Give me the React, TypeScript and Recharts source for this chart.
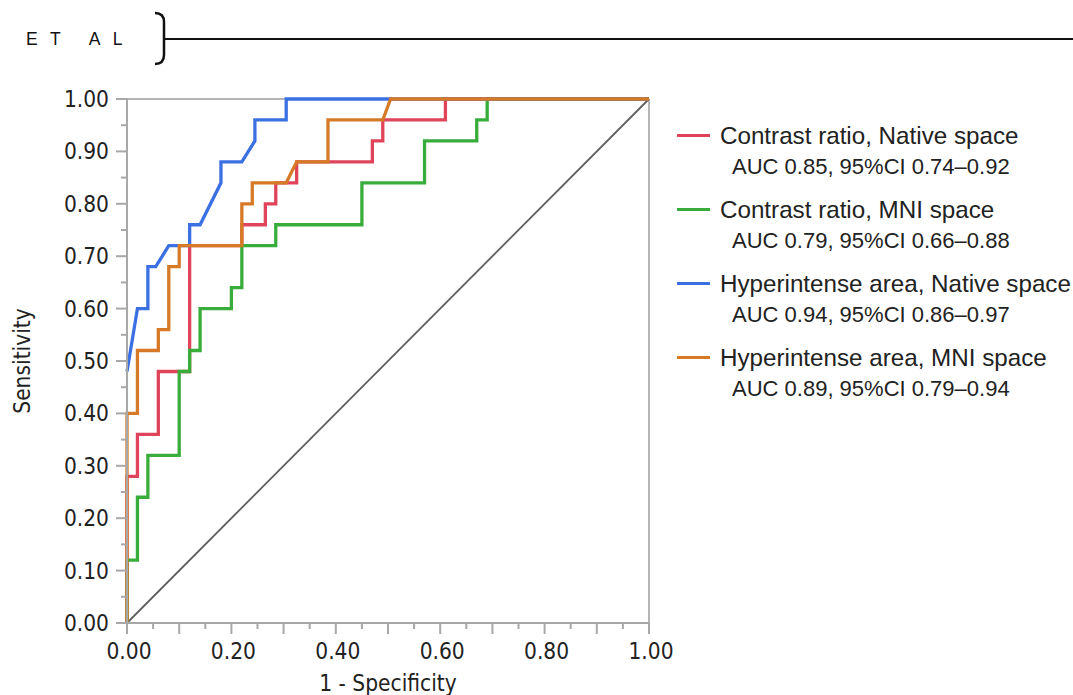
import React from "react";
import {
  LineChart,
  Line,
  XAxis,
  YAxis,
  CartesianGrid,
  ReferenceLine,
} from "recharts";

// ROC points (1 - specificity, sensitivity)
const RED_FPR = [0, 0, 0.02, 0.02, 0.06, 0.06, 0.12, 0.12, 0.22, 0.22, 0.265, 0.265, 0.285, 0.285, 0.325, 0.325, 0.47, 0.47, 0.49, 0.49, 0.61, 0.61, 1];
const RED_TPR = [0, 0.28, 0.28, 0.36, 0.36, 0.48, 0.48, 0.72, 0.72, 0.76, 0.76, 0.8, 0.8, 0.84, 0.84, 0.88, 0.88, 0.92, 0.92, 0.96, 0.96, 1, 1];

const GREEN_FPR = [0, 0, 0.02, 0.02, 0.04, 0.04, 0.1, 0.1, 0.12, 0.12, 0.14, 0.14, 0.2, 0.2, 0.22, 0.22, 0.285, 0.285, 0.45, 0.45, 0.57, 0.57, 0.67, 0.67, 0.69, 0.69, 1];
const GREEN_TPR = [0, 0.12, 0.12, 0.24, 0.24, 0.32, 0.32, 0.48, 0.48, 0.52, 0.52, 0.6, 0.6, 0.64, 0.64, 0.72, 0.72, 0.76, 0.76, 0.84, 0.84, 0.92, 0.92, 0.96, 0.96, 1, 1];

// blue curve: its first visible point is already at ~0.48 on the y axis
const BLUE_FPR = [0, 0.02, 0.04, 0.04, 0.055, 0.08, 0.12, 0.12, 0.14, 0.18, 0.18, 0.22, 0.245, 0.245, 0.305, 0.305, 1];
const BLUE_TPR = [0.48, 0.6, 0.6, 0.68, 0.68, 0.72, 0.72, 0.76, 0.76, 0.84, 0.88, 0.88, 0.92, 0.96, 0.96, 1, 1];

const ORANGE_FPR = [0, 0, 0.02, 0.02, 0.06, 0.06, 0.08, 0.08, 0.1, 0.1, 0.22, 0.22, 0.24, 0.24, 0.305, 0.325, 0.385, 0.385, 0.49, 0.505, 1];
const ORANGE_TPR = [0, 0.4, 0.4, 0.52, 0.52, 0.56, 0.56, 0.68, 0.68, 0.72, 0.72, 0.8, 0.8, 0.84, 0.84, 0.88, 0.88, 0.96, 0.96, 1, 1];

const DIAG_FPR = [0, 1];
const DIAG_TPR = [0, 1];

const TICKS = [0, 0.05, 0.1, 0.15, 0.2, 0.25, 0.3, 0.35, 0.4, 0.45, 0.5, 0.55, 0.6, 0.65, 0.7, 0.75, 0.8, 0.85, 0.9, 0.95, 1];
const GRID_TICKS = [0, 0.1, 0.2, 0.3, 0.4, 0.5, 0.6, 0.7, 0.8, 0.9, 1];

const SERIES_NAMES = [
  "Contrast ratio, Native space",
  "Contrast ratio, MNI space",
  "Hyperintense area, Native space",
  "Hyperintense area, MNI space",
];
const SERIES_AUC = [
  "AUC 0.85, 95%CI 0.74\u20130.92",
  "AUC 0.79, 95%CI 0.66\u20130.88",
  "AUC 0.94, 95%CI 0.86\u20130.97",
  "AUC 0.89, 95%CI 0.79\u20130.94",
];
const COLORS = ["#e0445a", "#38ad3c", "#3b70e2", "#d67a28"];

const zip = (xs: number[], ys: number[]) =>
  xs.map((x, i) => ({ fpr: x, tpr: ys[i] }));

const SERIES = [
  zip(RED_FPR, RED_TPR),
  zip(GREEN_FPR, GREEN_TPR),
  zip(BLUE_FPR, BLUE_TPR),
  zip(ORANGE_FPR, ORANGE_TPR),
];

const AXIS = "#a8a8a8";
const FONT = "'DejaVu Sans Condensed', 'DejaVu Sans', Verdana, sans-serif";
const FS = 22.5;

const XTick = (props: any) => {
  const { x, y, payload } = props;
  const c = Math.round(payload.value * 100);
  const major = c % 10 === 0;
  return (
    <g>
      <line x1={x} x2={x} y1={y} y2={y + (major ? 11 : 6)} stroke={AXIS} strokeWidth={2} />
      {c % 20 === 0 && (
        <text x={x + 2} y={y + 36} textAnchor="middle" fontFamily={FONT} fontStretch="condensed" fontSize={FS} fill="#222">
          {payload.value.toFixed(2)}
        </text>
      )}
    </g>
  );
};

const YTick = (props: any) => {
  const { x, y, payload } = props;
  const c = Math.round(payload.value * 100);
  const major = c % 10 === 0;
  return (
    <g>
      <line x1={x} x2={x - (major ? 11 : 6)} y1={y} y2={y} stroke={AXIS} strokeWidth={2} />
      {major && (
        <text x={x - 18} y={y + 8} textAnchor="end" fontFamily={FONT} fontStretch="condensed" fontSize={FS} fill="#222">
          {payload.value.toFixed(2)}
        </text>
      )}
    </g>
  );
};

export default function App() {
  return (
    <div style={{ position: "absolute", left: 0, top: 0, width: 1073, height: 695, background: "#fff" }}>
      <svg width={1073} height={70} style={{ position: "absolute", left: 0, top: 0 }}>
        <text x={26} y={45} fontFamily="'Liberation Sans', Arial, sans-serif" fontSize={17.5} letterSpacing={12.3} fill="#111">
          ET AL
        </text>
        <path d="M155,13 Q164,13 164,22 L164,55 Q164,64 155,64" fill="none" stroke="#111" strokeWidth={2.5} />
        <line x1={164} x2={1073} y1={39} y2={39} stroke="#111" strokeWidth={2} />
      </svg>

      <div style={{ position: "absolute", left: 0, top: 0 }}>
        <LineChart width={1073} height={695} margin={{ top: 99, right: 424, bottom: 0, left: 12 }}>
          <XAxis xAxisId="grid" type="number" dataKey="fpr" domain={[0, 1]} ticks={GRID_TICKS} hide />
          <YAxis yAxisId="grid" type="number" domain={[0, 1]} ticks={GRID_TICKS} hide />
          <CartesianGrid xAxisId="grid" yAxisId="grid" stroke="#d8d8d8" strokeWidth={1.5} />
          <XAxis
            type="number"
            dataKey="fpr"
            domain={[0, 1]}
            ticks={TICKS}
            interval={0}
            height={72}
            tickSize={0}
            tickMargin={0}
            tickLine={false}
            tick={<XTick />}
            axisLine={{ stroke: AXIS, strokeWidth: 2 }}
            label={{
              value: "1 - Specificity",
              position: "insideBottom",
              offset: 4,
              style: { fontFamily: FONT, fontStretch: "condensed", fontSize: FS, fill: "#222" },
            }}
          />
          <YAxis
            type="number"
            domain={[0, 1]}
            ticks={TICKS}
            interval={0}
            width={115}
            tickSize={0}
            tickMargin={0}
            tickLine={false}
            tick={<YTick />}
            axisLine={{ stroke: AXIS, strokeWidth: 2 }}
            label={{
              value: "Sensitivity",
              angle: -90,
              position: "insideLeft",
              offset: 10,
              style: { fontFamily: FONT, fontStretch: "condensed", fontSize: FS, fill: "#222", textAnchor: "middle" },
            }}
          />
          <ReferenceLine y={1} stroke="#b4b4b4" strokeWidth={2} />
          <ReferenceLine x={1} stroke="#b4b4b4" strokeWidth={2} />
          <Line
            data={zip(DIAG_FPR, DIAG_TPR)}
            dataKey="tpr"
            type="linear"
            stroke="#5e5e5e"
            strokeWidth={1.8}
            dot={false}
            activeDot={false}
            isAnimationActive={false}
          />
          {SERIES.map((d, i) => (
            <Line
              key={SERIES_NAMES[i]}
              data={d}
              dataKey="tpr"
              name={SERIES_NAMES[i]}
              type="linear"
              stroke={COLORS[i]}
              strokeWidth={3.3}
              dot={false}
              activeDot={false}
              isAnimationActive={false}
            />
          ))}
        </LineChart>
      </div>

      <div style={{ position: "absolute", left: 677, top: 120, fontFamily: "'Liberation Sans', Arial, sans-serif", color: "#222" }}>
        {SERIES_NAMES.map((name, i) => (
          <div key={name} style={{ marginBottom: 12 }}>
            <div style={{ display: "flex", alignItems: "center", height: 31, fontSize: 24.2, whiteSpace: "nowrap" }}>
              <span style={{ display: "inline-block", width: 33, height: 3, background: COLORS[i], marginRight: 10 }} />
              {name}
            </div>
            <div style={{ height: 31, lineHeight: "31px", fontSize: 22, paddingLeft: 55, whiteSpace: "nowrap" }}>
              {SERIES_AUC[i]}
            </div>
          </div>
        ))}
      </div>
    </div>
  );
}
